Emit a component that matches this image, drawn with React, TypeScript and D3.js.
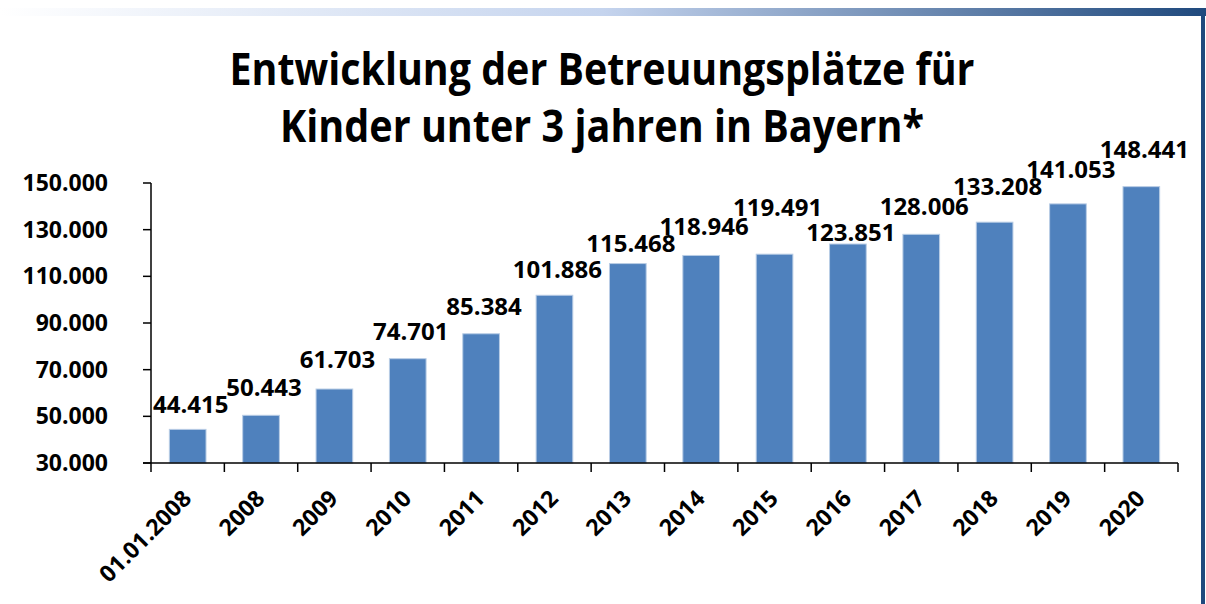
import React from "react";
import * as d3 from "d3";

const categories = ["01.01.2008", "2008", "2009", "2010", "2011", "2012", "2013", "2014", "2015", "2016", "2017", "2018", "2019", "2020"];
const values = [44415, 50443, 61703, 74701, 85384, 101886, 115468, 118946, 119491, 123851, 128006, 133208, 141053, 148441];
const yTicks = [30000, 50000, 70000, 90000, 110000, 130000, 150000];
const titleLines = ["Entwicklung der Betreuungsplätze für", "Kinder unter 3 jahren in Bayern*"];

// layout: how far each value label sits above its bar (px), and title line widths
const labelLift = [24, 27, 29, 27, 27, 25, 20, 28, 46, 11, 27, 35, 34, 37];
const titleWidths = [745, 644];

const W = 1206;
const H = 604;
const fmt = (v: number) => d3.format(",")(v).replace(/,/g, ".");

export default function App() {
  const x = d3.scaleBand<string>().domain(categories).range([151, 1178]).paddingInner(0.5).paddingOuter(0.25);
  const y = d3.scaleLinear().domain([30000, 150000]).range([463, 183]);
  const band = (1178 - 151) / categories.length;
  const font = "'Open Sans', 'DejaVu Sans', sans-serif";

  return (
    <svg width={W} height={H} style={{ position: "absolute", left: 0, top: 0, background: "#fff" }} fontFamily={font}>
      <defs>
        <linearGradient id="topbar" x1="0" x2="1" y1="0" y2="0">
          <stop offset="0" stopColor="#ffffff" />
          <stop offset="0.5" stopColor="#c5d4ee" />
          <stop offset="1" stopColor="#1f497d" />
        </linearGradient>
      </defs>
      <rect x={0} y={8} width={W} height={8} fill="url(#topbar)" />
      <rect x={1201} y={15} width={4} height={H - 15} fill="#1f497d" />

      {titleLines.map((t, i) => (
        <text
          key={t}
          x={602 - titleWidths[i] / 2}
          y={85 + i * 57}
          fontSize={44}
          fontWeight="bold"
          fill="#000"
          textLength={titleWidths[i]}
          lengthAdjust="spacingAndGlyphs"
        >
          {t}
        </text>
      ))}

      {/* bars */}
      {values.map((v, i) => (
        <rect
          key={categories[i]}
          x={x(categories[i])!}
          y={y(v)}
          width={x.bandwidth()}
          height={463 - y(v)}
          fill="#4f81bd"
          stroke="#b9cde5"
          strokeWidth={1}
        />
      ))}

      {/* y axis */}
      <line x1={151} x2={151} y1={183} y2={463} stroke="#000" strokeWidth={1.5} />
      {yTicks.map((t) => (
        <g key={t}>
          <line x1={143} x2={151} y1={y(t)} y2={y(t)} stroke="#000" strokeWidth={1.5} />
          <text x={108} y={y(t) + 8} textAnchor="end" fontSize={23} fontWeight="bold" fill="#000">
            {fmt(t)}
          </text>
        </g>
      ))}

      {/* x axis */}
      <line x1={143} x2={1178} y1={463} y2={463} stroke="#000" strokeWidth={1.5} />
      {d3.range(categories.length + 1).map((i) => (
        <line key={i} x1={151 + i * band} x2={151 + i * band} y1={463} y2={472} stroke="#000" strokeWidth={1.5} />
      ))}
      {categories.map((c) => {
        const cx = x(c)! + x.bandwidth() / 2;
        return (
          <text
            key={c}
            transform={`translate(${cx + 5},${500}) rotate(-45)`}
            textAnchor="end"
            fontSize={23}
            fontWeight="bold"
            fill="#000"
          >
            {c}
          </text>
        );
      })}

      {/* value labels */}
      {values.map((v, i) => {
        const cx = x(categories[i])! + x.bandwidth() / 2;
        return (
          <text key={i} x={cx + 3} y={y(v) - labelLift[i] + 8} textAnchor="middle" fontSize={24} fontWeight="bold" fill="#000">
            {fmt(v)}
          </text>
        );
      })}
    </svg>
  );
}
